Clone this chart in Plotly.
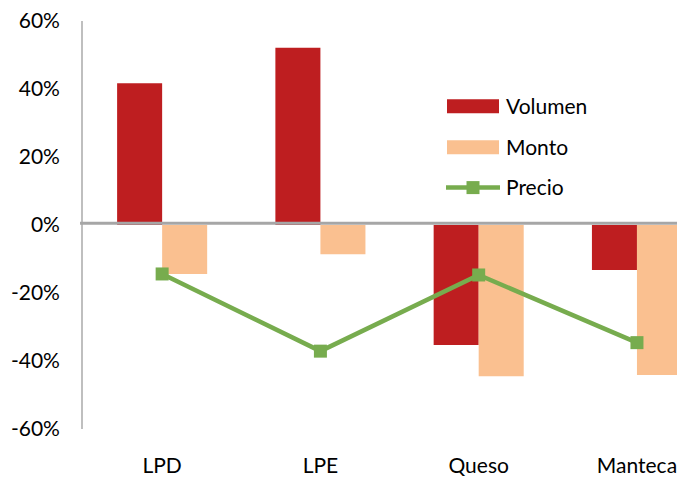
import plotly.graph_objects as go

categories = ["LPD", "LPE", "Queso", "Manteca"]
volumen = [0.417, 0.521, -0.353, -0.132]
monto = [-0.144, -0.086, -0.445, -0.441]
precio = [-0.144, -0.371, -0.147, -0.346]
ytick_vals = [-0.6, -0.4, -0.2, 0.0, 0.2, 0.4, 0.6]
ytick_text = ["-60%", "-40%", "-20%", "0%", "20%", "40%", "60%"]
series_names = ["Volumen", "Monto", "Precio"]

RED = "#BE1E20"
PEACH = "#FAC090"
GREEN = "#77AC4E"
FONT = "Lato"

W, H = 677, 477
L, R, T, B = 83, 0, 21, 48
PW, PH = W - L - R, H - T - B


def px(x):
    return (x - L) / PW


def py(y):
    return (H - B - y) / PH


fig = go.Figure()
fig.add_trace(go.Bar(x=categories, y=volumen, name=series_names[0],
                     marker=dict(color=RED, line=dict(width=0))))
fig.add_trace(go.Bar(x=categories, y=monto, name=series_names[1],
                     marker=dict(color=PEACH, line=dict(width=0))))
fig.add_trace(go.Scatter(x=categories, y=precio, name=series_names[2],
                         mode="lines+markers",
                         line=dict(color=GREEN, width=4.5),
                         marker=dict(symbol="square", size=13, color=GREEN)))

shapes = [
    # horizontal axis line at zero
    dict(type="line", xref="paper", yref="y", x0=-0.005, x1=1, y0=0.005, y1=0.005,
         line=dict(color="#A6A6A6", width=3), layer="above"),
]
annotations = []
# manual legend
leg_x0, leg_x1, text_x = 447, 499, 504
rows = [106.2, 147.2, 187.6]
for name, color, yc in zip(series_names[:2], [RED, PEACH], rows[:2]):
    shapes.append(dict(type="rect", xref="paper", yref="paper",
                       x0=px(leg_x0), x1=px(leg_x1), y0=py(yc + 7), y1=py(yc - 7),
                       fillcolor=color, line=dict(width=0)))
shapes.append(dict(type="line", xref="paper", yref="paper",
                   x0=px(446), x1=px(500), y0=py(rows[2]), y1=py(rows[2]),
                   line=dict(color=GREEN, width=4.5)))
shapes.append(dict(type="rect", xref="paper", yref="paper",
                   x0=px(466.5), x1=px(479.5), y0=py(rows[2] + 6.5), y1=py(rows[2] - 6.5),
                   fillcolor=GREEN, line=dict(width=0)))
for name, yc in zip(series_names, rows):
    annotations.append(dict(text=name, xref="paper", yref="paper",
                            x=px(text_x), y=py(yc - 1), xanchor="left", yanchor="middle",
                            showarrow=False, font=dict(family=FONT, size=21, color="#000000")))

fig.update_layout(
    width=W, height=H,
    margin=dict(l=L, r=R, t=T, b=B, pad=0),
    paper_bgcolor="white", plot_bgcolor="white",
    barmode="group", bargap=0.431, bargroupgap=0,
    showlegend=False,
    font=dict(family=FONT, size=21, color="#000000"),
    shapes=shapes, annotations=annotations,
    xaxis=dict(range=[-0.5, 3.253], showline=False, showgrid=False, zeroline=False,
               ticks="", ticklabelstandoff=22, tickfont=dict(family=FONT, size=21),
               automargin=False, fixedrange=True),
    yaxis=dict(range=[-0.6, 0.6], tickvals=ytick_vals, ticktext=ytick_text,
               showgrid=False, zeroline=False, showline=True, linecolor="#BFBFBF",
               linewidth=1.7, ticks="", ticklabelstandoff=17,
               tickfont=dict(family=FONT, size=21), automargin=False, fixedrange=True),
)

fig.write_html("out.html")
